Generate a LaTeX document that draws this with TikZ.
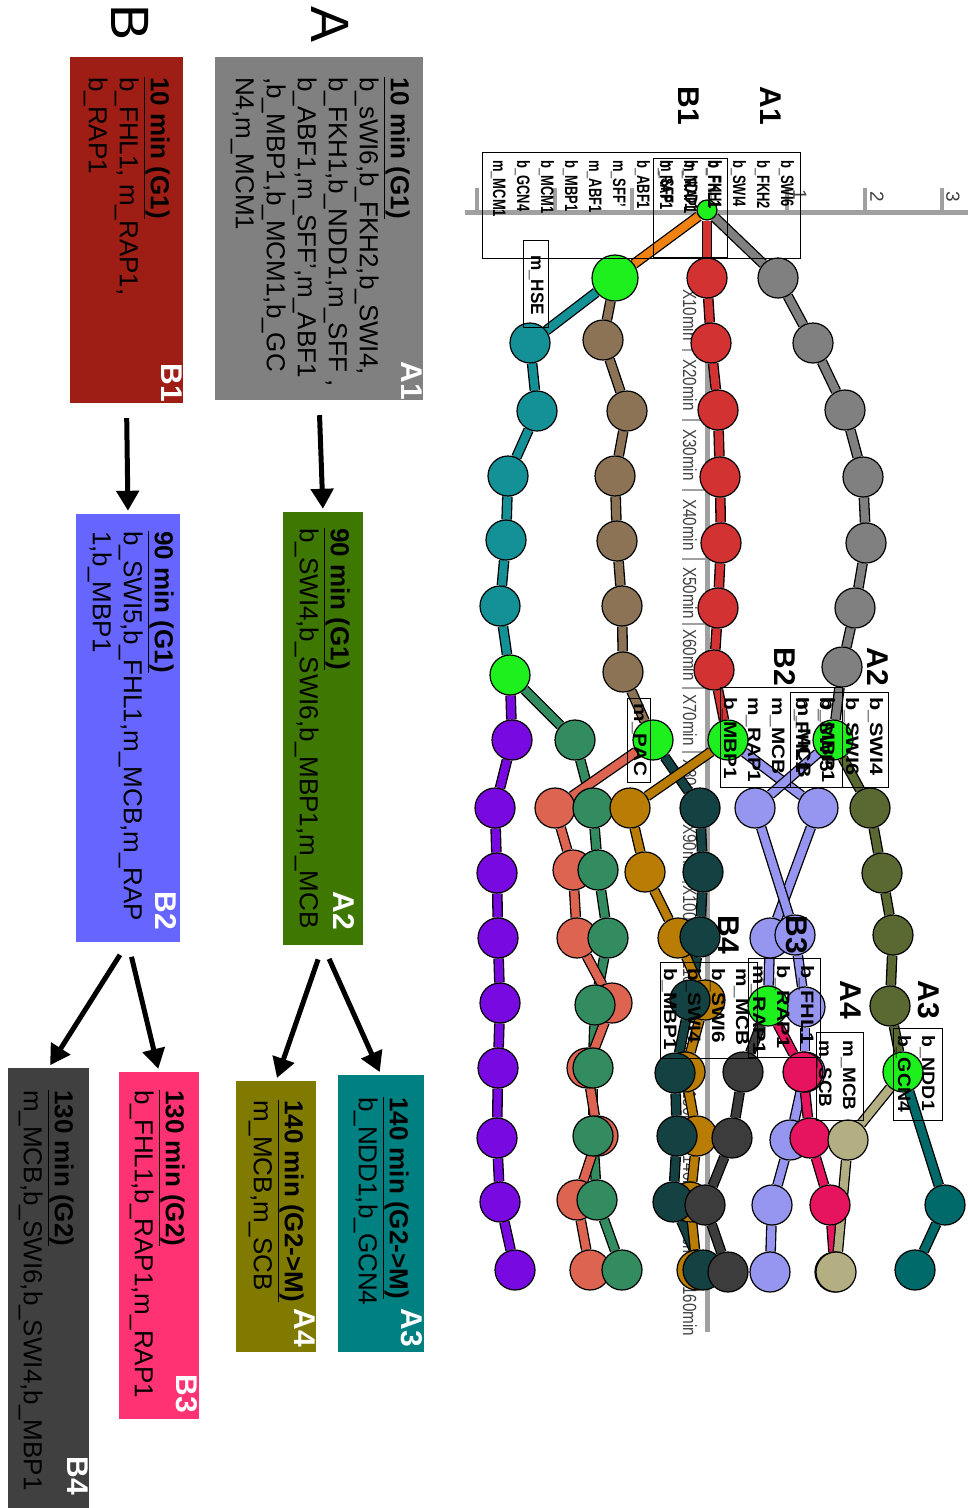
\documentclass[tikz,border=0pt]{standalone}
\usepackage{fontspec}
\setmainfont{Liberation Sans}
\usetikzlibrary{arrows.meta,calc}
\pgfdeclarelayer{axis}\pgfdeclarelayer{edges}\pgfdeclarelayer{front}
\pgfsetlayers{axis,edges,main,front}
% panel colours
\definecolor{cA1}{RGB}{128,128,128}
\definecolor{cB1}{RGB}{158,30,22}
\definecolor{cA2}{RGB}{62,120,2}
\definecolor{cB2}{RGB}{102,102,255}
\definecolor{cA3}{RGB}{0,128,128}
\definecolor{cA4}{RGB}{128,122,0}
\definecolor{cB3}{RGB}{255,51,115}
\definecolor{cB4}{RGB}{64,64,64}
% chain colours
\definecolor{kgray}{RGB}{128,128,128}
\definecolor{kred}{RGB}{210,50,50}
\definecolor{korange}{RGB}{240,130,20}
\definecolor{kteal}{RGB}{20,145,150}
\definecolor{kbrown}{RGB}{140,115,85}
\definecolor{kpurple}{RGB}{120,10,225}
\definecolor{ksea}{RGB}{50,140,95}
\definecolor{ksalmon}{RGB}{220,100,80}
\definecolor{kgold}{RGB}{185,125,5}
\definecolor{kdteal}{RGB}{20,65,65}
\definecolor{klav}{RGB}{150,150,240}
\definecolor{kpink}{RGB}{230,20,95}
\definecolor{kdgray}{RGB}{60,60,60}
\definecolor{kolive}{RGB}{90,105,50}
\definecolor{kteal2}{RGB}{0,105,105}
\definecolor{ktan}{RGB}{180,175,130}
\definecolor{kgreen}{RGB}{30,240,30}
\definecolor{axgray}{RGB}{160,160,160}
\tikzset{
  panel/.style={rectangle,draw=none,inner sep=0pt},
  boxtxt/.style={rotate=-90,align=left,inner sep=0pt,anchor=north west,
    font=\fontsize{26}{31}\selectfont},
  boxlab/.style={rotate=-90,inner sep=0pt,anchor=north east,text=white,
    font=\bfseries\fontsize{30}{30}\selectfont},
  bigletter/.style={rotate=-90,inner sep=0pt,font=\fontsize{54}{54}\selectfont},
  arr/.style={line width=5pt,-{Triangle[width=22pt,length=20pt]},
    shorten <=15pt,shorten >=3pt},
  dot/.style={circle,draw=black,line width=1.2pt,fill=#1,minimum size=40pt,inner sep=0pt},
  gdot/.style={dot=kgreen},
  link/.style={draw=black,line width=1.3pt,double=#1,double distance=8pt},
  annbox/.style={draw=black,line width=0.9pt},
  anntxt/.style={rotate=-90,inner sep=0pt,anchor=north west,
    font=\bfseries\fontsize{18}{24}\selectfont},
  reglab/.style={rotate=-90,inner sep=0pt,font=\bfseries\fontsize{30}{30}\selectfont},
  tlab/.style={rotate=-90,inner sep=0pt,text=black!75,font=\fontsize{19}{19}\selectfont},
  axline/.style={draw=axgray,line width=5pt},
}
\newcommand\anntab[2][0.72]{\scalebox{#1}[1]{\begin{tabular}{@{}l@{}}#2\end{tabular}}}
\newcommand\mkchain[3]{\foreach \px/\py [count=\k] in {#3} {\node[dot=#2] (#1\k) at (\px,\py) {};}}
\newcommand\mklinks[3]{\foreach \k [remember=\k as \kp (initially 1)] in {2,...,#3} {\draw[link=#2] (#1\kp) -- (#1\k);}}
\begin{document}
\begin{tikzpicture}[x=1pt,y=-1pt]
\useasboundingbox (0,0) rectangle (968,1508);
% ---------------- left panels ----------------
\node[bigletter] (bigA) at (330,25) {A};
\node[bigletter] (bigB) at (130,23) {B};
\node[panel,fill=cA1,minimum width=208pt,minimum height=343pt] (A1) at (319,228.5) {};
\node[panel,fill=cB1,minimum width=113pt,minimum height=346pt] (B1) at (126.5,230) {};
\node[panel,fill=cA2,minimum width=80pt,minimum height=433pt] (A2) at (323,728.5) {};
\node[panel,fill=cB2,minimum width=104pt,minimum height=428pt] (B2) at (128,728) {};
\node[panel,fill=cA3,minimum width=86pt,minimum height=277pt] (A3) at (381,1213.5) {};
\node[panel,fill=cA4,minimum width=80pt,minimum height=271pt] (A4) at (276,1216.5) {};
\node[panel,fill=cB3,minimum width=80pt,minimum height=347pt] (B3) at (159,1245.5) {};
\node[panel,fill=cB4,minimum width=81pt,minimum height=440pt] (B4) at (48.5,1288) {};
\node[boxtxt] (A1t) at (410,77) {\underline{\textbf{10 min (G1)}}\\b\_sWI6,b\_FKH2,b\_SWI4,\\b\_FKH1,b\_NDD1,m\_SFF ,\\b\_ABF1,m\_SFF',m\_ABF1\\,b\_MBP1,b\_MCM1,b\_GC\\N4,m\_MCM1};
\node[boxtxt] (B1t) at (170,77) {\underline{\textbf{10 min (G1)}}\\b\_FHL1, m\_RAP1,\\b\_RAP1};
\node[boxtxt] (A2t) at (350,528) {\underline{\textbf{90 min (G1)}}\\b\_SWI4,b\_SWI6,b\_MBP1,m\_MCB};
\node[boxtxt] (B2t) at (174,531) {\underline{\textbf{90 min (G1)}}\\b\_SWI5,b\_FHL1,m\_MCB,m\_RAP\\1,b\_MBP1};
\node[boxtxt] (A3t) at (409,1097) {\underline{\textbf{140 min (G2->M)}}\\b\_NDD1,b\_GCN4};
\node[boxtxt] (A4t) at (304,1100) {\underline{\textbf{140 min (G2->M)}}\\m\_MCB,m\_SCB};
\node[boxtxt] (B3t) at (185,1090) {\underline{\textbf{130 min (G2)}}\\b\_FHL1,b\_RAP1,m\_RAP1};
\node[boxtxt] (B4t) at (74,1090) {\underline{\textbf{130 min (G2)}}\\m\_MCB,b\_SWI6,b\_SWI4,b\_MBP1};
\node[boxlab] (A1l) at (422,400) {A1};
\node[boxlab] (B1l) at (182,402) {B1};
\node[boxlab] (A2l) at (355,930) {A2};
\node[boxlab] (B2l) at (177,930) {B2};
\node[boxlab] (A3l) at (423,1347) {A3};
\node[boxlab] (A4l) at (315,1347) {A4};
\node[boxlab] (B3l) at (198,1413) {B3};
\node[boxlab] (B4l) at (88,1495) {B4};
\draw[arr] (A1.south) -- (A2.north);
\draw[arr] (B1.south) -- (B2.north);
\draw[arr] (A2.south) -- (A3.north);
\draw[arr] (A2.south) -- (A4.north);
\draw[arr] (B2.south) -- (B3.north);
\draw[arr] (B2.south) -- (B4.north);
% ---------------- axes ----------------
\begin{pgfonlayer}{axis}
\coordinate (axL) at (465,212); \coordinate (axR) at (968,212);
\draw[axline] (axL) -- (axR);
\foreach \tx in {477,555,632,710,787,865,942} {\draw[axgray,line width=4pt] (\tx,188) -- (\tx,214);}
\node[tlab] (tk1) at (800,195) {1};
\node[tlab] (tk2) at (877,197) {2};
\node[tlab] (tk3) at (953,197) {3};
\coordinate (vaT) at (707,290); \coordinate (vaB) at (707,1332);
\draw[axline] (vaT) -- (vaB);
\foreach \m/\ty in {10/315,20/385,30/455,40/525,50/593,60/655,70/720,80/785,90/850,100/915,110/980,120/1045,130/1110,140/1175,150/1240,160/1306}
  {\node[tlab] (tl\m) at (690,\ty) {\scalebox{0.8}[1]{X\m min}};}
\foreach \ty in {350,420,490,559,624,688,752,818,882,948,1012,1078,1142,1208,1273}
  {\draw[axgray,line width=2pt] (682,\ty) -- (707,\ty);}
\end{pgfonlayer}
% ---------------- graph nodes ----------------
\node[gdot,minimum size=20pt] (G0) at (707,210) {};
\node[gdot,minimum size=46pt] (G1) at (615,278) {};
\node[gdot] (GT) at (510,675) {};
\node[gdot] (GP) at (653,740) {};
\node[gdot] (GB2) at (728,740) {};
\node[gdot] (GA2) at (833,740) {};
\mkchain{gray}{kgray}{778/278,813/343,845/410,863/477,866/543,855/608,842/667}
\mkchain{red}{kred}{707/278,711/343,718/410,720/477,721/543,718/608,714/670}
\mkchain{teal}{kteal}{530/343,537/411,508/476,506/540,500/606}
\mkchain{brown}{kbrown}{603/340,627/411,615/476,617/541,622/606,623/672}
\mkchain{purple}{kpurple}{512/740,495/808,497/873,498/938,500/1003,498/1068,497/1138,500/1202,515/1270}
\mkchain{salmon}{ksalmon}{555/808,573/870,577/938,612/1003,587/1068,598/1136,577/1200,590/1270}
\mkchain{sea}{ksea}{575/740,593/808,598/870,608/938,595/1005,593/1068,593/1136,597/1200,622/1270}
\mkchain{gold}{kgold}{630/808,645/872,678/938,705/1000,685/1072,697/1136,690/1202,697/1270}
\mkchain{dteal}{kdteal}{700/808,703/872,700/937,690/1000,675/1073,677/1136,673/1202,703/1270}
\mkchain{lavA}{klav}{818/808,770/938}
\mkchain{lavB}{klav}{755/808,795/935,805/1007,805/1072,790/1140,772/1205,770/1272}
\node[gdot] (GB3) at (768,1006) {};
\mkchain{pink}{kpink}{803/1072,810/1138,830/1205,835/1272}
\mkchain{dgray}{kdgray}{743/1072,732/1138,705/1205,728/1272}
\mkchain{olive}{kolive}{870/808,882/873,893/935,890/1006}
\node[gdot] (GA3) at (903,1072) {};
\mkchain{tealb}{kteal2}{945/1205,915/1270}
\mkchain{tan}{ktan}{848/1140,836/1272}
\begin{pgfonlayer}{edges}
\draw[link=korange] (G0) -- (G1);
\draw[link=kgray] (G0) -- (gray1); \mklinks{gray}{kgray}{7} \draw[link=kgray] (gray7) -- (GA2);
\draw[link=kred] (G0) -- (red1); \mklinks{red}{kred}{7} \draw[link=kred] (red7) -- (GB2);
\draw[link=kteal] (G1) -- (teal1); \mklinks{teal}{kteal}{5} \draw[link=kteal] (teal5) -- (GT);
\draw[link=kbrown] (G1) -- (brown1); \mklinks{brown}{kbrown}{6} \draw[link=kbrown] (brown6) -- (GP);
\draw[link=kpurple] (GT) -- (purple1); \mklinks{purple}{kpurple}{9}
\draw[link=ksea] (GT) -- (sea1); \mklinks{sea}{ksea}{9}
\draw[link=ksalmon] (GP) -- (salmon1); \mklinks{salmon}{ksalmon}{8}
\draw[link=kdteal] (GP) -- (dteal1); \mklinks{dteal}{kdteal}{8}
\draw[link=kgold] (GB2) -- (gold1); \mklinks{gold}{kgold}{8}
\draw[link=klav] (GB2) -- (lavA1); \mklinks{lavA}{klav}{2} \draw[link=klav] (lavA2) -- (GB3);
\draw[link=klav] (GA2) -- (lavB1); \mklinks{lavB}{klav}{7}
\draw[link=kpink] (GB3) -- (pink1); \mklinks{pink}{kpink}{4}
\draw[link=kdgray] (GB3) -- (dgray1); \mklinks{dgray}{kdgray}{4}
\draw[link=kolive] (GA2) -- (olive1); \mklinks{olive}{kolive}{4} \draw[link=kolive] (olive4) -- (GA3);
\draw[link=kteal2] (GA3) -- (tealb1); \mklinks{tealb}{kteal2}{2}
\draw[link=ktan] (GA3) -- (tan1); \mklinks{tan}{ktan}{2}
\end{pgfonlayer}
% ---------------- annotations ----------------
\begin{pgfonlayer}{front}
\draw[annbox] (482,152) rectangle (800,258);
\draw[annbox] (653,158) rectangle (727,257);
\draw[annbox] (523,240) rectangle (548,327);
\node[anntxt] (annA1) at (798,160) {\anntab{b\_SWI6\\b\_FKH2\\b\_SWI4\\b\_FKH1\\b\_NDD1\\m\_SFF\\b\_ABF1\\m\_SFF'\\m\_ABF1\\b\_MBP1\\b\_MCM1\\b\_GCN4\\m\_MCM1}};
\node[anntxt] (annB1) at (725,160) {\anntab{b\_FHL1\\m\_RAP1\\b\_RAP1}};
\node[anntxt,anchor=center] (annHSE) at (536,285) {\anntab[0.95]{m\_HSE}};
\draw[annbox] (790,692) rectangle (888,787);
\draw[annbox] (720,687) rectangle (842,787);
\node[anntxt] (annA2) at (887,697) {\anntab[1.2]{b\_SWI4\\b\_SWI6\\b\_MBP1\\m\_MCB}};
\node[anntxt] (annB2) at (837,697) {\anntab[1.15]{b\_SWI5\\b\_FHL1\\m\_MCB\\m\_RAP1\\b\_MBP1}};
\draw[annbox] (893,1028) rectangle (942,1120);
\node[anntxt] (annA3) at (939,1035) {\anntab[1.08]{b\_NDD1\\b\_GCN4}};
\draw[annbox] (816,1032) rectangle (863,1120);
\node[anntxt] (annA4) at (860,1040) {\anntab[1.05]{m\_MCB\\m\_SCB}};
\draw[annbox] (748,958) rectangle (820,1057);
\node[anntxt] (annB3) at (818,965) {\anntab[1.2]{b\_FHL1\\b\_RAP1\\m\_RAP1}};
\draw[annbox] (660,962) rectangle (757,1058);
\node[anntxt] (annB4) at (753,968) {\anntab[1.15]{m\_MCB\\b\_SWI6\\b\_SWI4\\b\_MBP1}};
\draw[annbox] (627,698) rectangle (650,782);
\node[anntxt,anchor=center] (annPAC) at (639,740) {\anntab[1.15]{m\_PAC}};
\node[reglab] (rA1) at (771,106) {A1};
\node[reglab] (rB1) at (689,106) {B1};
\node[reglab] (rA2) at (878,667) {A2};
\node[reglab] (rB2) at (785,667) {B2};
\node[reglab] (rA3) at (929,1000) {A3};
\node[reglab] (rA4) at (851,1000) {A4};
\node[reglab] (rB3) at (797,935) {B3};
\node[reglab] (rB4) at (729,935) {B4};
\end{pgfonlayer}
\end{tikzpicture}
\end{document}
